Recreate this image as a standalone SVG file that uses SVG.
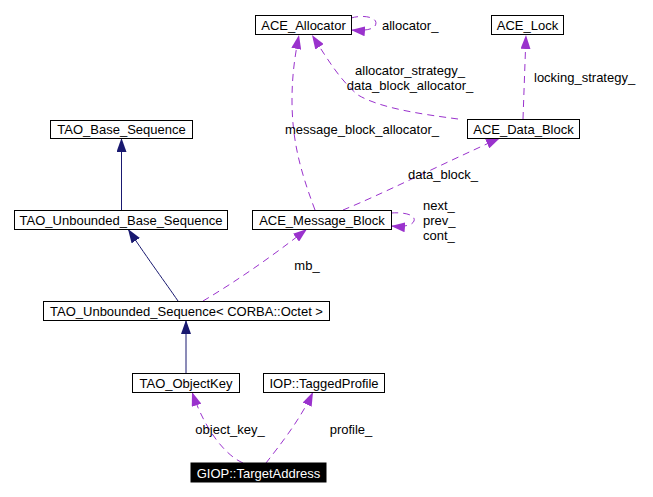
<svg xmlns="http://www.w3.org/2000/svg" width="653" height="497" viewBox="0 0 653 497">
<style>
.box{fill:#fff;stroke:#000;stroke-width:1}
.t{font-family:"Liberation Sans",Arial,sans-serif;font-size:13px;fill:#000;text-anchor:middle}
.l{font-family:"Liberation Sans",Arial,sans-serif;font-size:13px;fill:#000}
.inh{fill:none;stroke:#191970;stroke-width:1}
.use{fill:none;stroke:#9a32cd;stroke-width:1;stroke-dasharray:7,5}
</style>
<defs>
<marker id="ah" viewBox="0 0 14 10" refX="14" refY="5" markerWidth="14" markerHeight="10" markerUnits="userSpaceOnUse" orient="auto"><path d="M0,0 L14,5 L0,10 z" fill="#191970"/></marker>
<marker id="ap" viewBox="0 0 14 10" refX="14" refY="5" markerWidth="14" markerHeight="10" markerUnits="userSpaceOnUse" orient="auto"><path d="M0,0 L14,5 L0,10 z" fill="#9a32cd"/></marker>
</defs>
<rect width="653" height="497" fill="#fff"/>
<g id="connectors">
<path class="inh" d="M121.5,210 L121.5,138" marker-end="url(#ah)"/>
<path class="inh" d="M178,301 C165,282 150,262 128,229" marker-end="url(#ah)"/>
<path class="inh" d="M186,373 L186,320" marker-end="url(#ah)"/>
<path class="use" d="M203,301 C235,282 270,258 307,229" marker-end="url(#ap)"/>
<path class="use" d="M315,210 C300,170 292,140 292,100 C292,75 295,55 299,35" marker-end="url(#ap)"/>
<path class="use" d="M458,119 C420,114 380,108 358,95 C340,80 328,60 312,35" marker-end="url(#ap)"/>
<path class="use" d="M351,18 C365,14 380,18 375,26 C372,30 362,31 351,30" marker-end="url(#ap)"/>
<path class="use" d="M523,119 L526,35" marker-end="url(#ap)"/>
<path class="use" d="M343,210 C380,195 440,165 500,138" marker-end="url(#ap)"/>
<path class="use" d="M391,213 C405,212 416,215 414,221 C412,226 402,227 391,226" marker-end="url(#ap)"/>
<path class="use" d="M243,463 C225,455 205,430 192,392" marker-end="url(#ap)"/>
<path class="use" d="M266,463 C280,445 300,420 313,392" marker-end="url(#ap)"/>
<text class="l" x="307" y="270" text-anchor="middle">mb_</text>
<text class="l" x="362" y="134" text-anchor="middle">message_block_allocator_</text>
<text class="l" x="410" y="75" text-anchor="middle">allocator_strategy_</text>
<text class="l" x="410" y="90" text-anchor="middle">data_block_allocator_</text>
<text class="l" x="382" y="30">allocator_</text>
<text class="l" x="534" y="82">locking_strategy_</text>
<text class="l" x="443" y="179" text-anchor="middle">data_block_</text>
<text class="l" x="423" y="210">next_</text>
<text class="l" x="423" y="225">prev_</text>
<text class="l" x="423" y="240">cont_</text>
<text class="l" x="230" y="434" text-anchor="middle">object_key_</text>
<text class="l" x="351" y="434" text-anchor="middle">profile_</text>
</g>
<g id="ACE_Allocator"><rect class="box" x="255.5" y="15.5" width="96" height="19"/><text class="t" x="303.5" y="30">ACE_Allocator</text></g>
<g id="ACE_Lock"><rect class="box" x="491.5" y="15.5" width="72" height="19"/><text class="t" x="527.5" y="30">ACE_Lock</text></g>
<g id="ACE_Data_Block"><rect class="box" x="467.5" y="119.5" width="112" height="19"/><text class="t" x="523.5" y="134">ACE_Data_Block</text></g>
<g id="ACE_Message_Block"><rect class="box" x="252.5" y="210.5" width="139" height="19"/><text class="t" x="322" y="225">ACE_Message_Block</text></g>
<g id="TAO_Base_Sequence"><rect class="box" x="50.5" y="120.5" width="142" height="18"/><text class="t" x="121.5" y="134">TAO_Base_Sequence</text></g>
<g id="TAO_Unbounded_Base_Sequence"><rect class="box" x="14.5" y="210.5" width="213" height="19"/><text class="t" x="121" y="225">TAO_Unbounded_Base_Sequence</text></g>
<g id="TAO_Unbounded_Sequence"><rect class="box" x="43.5" y="301.5" width="286" height="19"/><text class="t" x="186.5" y="316">TAO_Unbounded_Sequence&lt; CORBA::Octet &gt;</text></g>
<g id="TAO_ObjectKey"><rect class="box" x="132.5" y="373.5" width="107" height="19"/><text class="t" x="186" y="388">TAO_ObjectKey</text></g>
<g id="IOP_TaggedProfile"><rect class="box" x="263.5" y="373.5" width="121" height="19"/><text class="t" x="324" y="388">IOP::TaggedProfile</text></g>
<g id="GIOP_TargetAddress"><rect x="191" y="463" width="135" height="19" fill="#000" stroke="#000"/><text class="t" x="258.5" y="478" style="fill:#fff">GIOP::TargetAddress</text></g>
</svg>
